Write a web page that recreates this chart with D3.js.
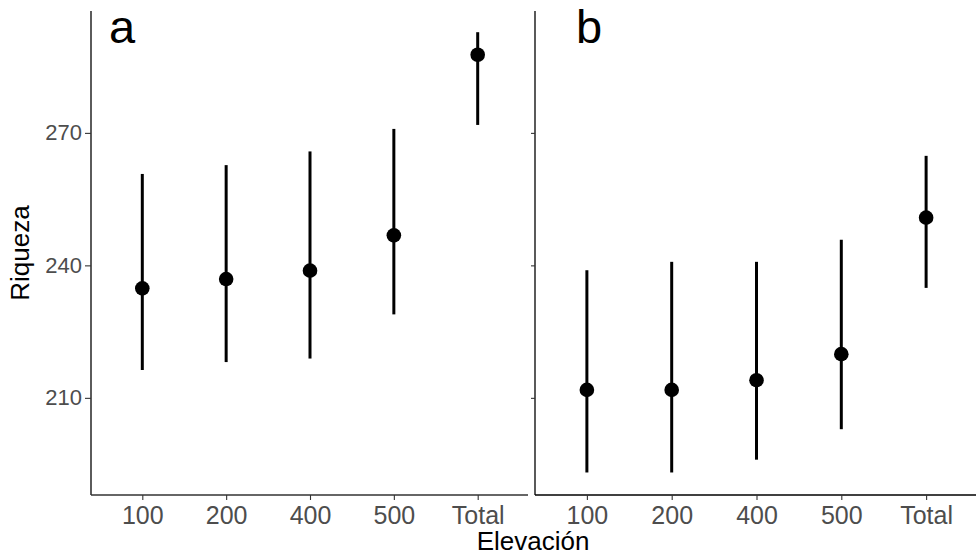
<!DOCTYPE html>
<html>
<head>
<meta charset="utf-8">
<script src="https://cdn.jsdelivr.net/npm/d3@7"></script>
<style>
  body { margin: 0; background: #fff; }
  text { font-family: "Liberation Sans", Arial, sans-serif; }
</style>
</head>
<body>
<div id="chart"></div>
<script>
// data
var categories = ["100", "200", "400", "500", "Total"];
var panelLabels = ["a", "b"];
var yTicks = [210, 240, 270];

var meanA  = [234.8, 236.9, 238.8, 246.8, 287.7];
var lowerA = [216.3, 218.1, 218.9, 228.9, 271.8];
var upperA = [260.7, 262.7, 265.8, 270.9, 292.8];

var meanB  = [211.8, 211.8, 214.0, 219.9, 250.8];
var lowerB = [193.1, 193.1, 196.0, 202.9, 234.9];
var upperB = [238.9, 240.8, 240.8, 245.8, 264.8];

var svgWidth = 976;
var svgHeight = 557;

var svg = d3.select("#chart").append("svg")
  .attr("width", svgWidth).attr("height", svgHeight);

// shared y scale
var yScale = d3.scaleLinear().domain([188, 297.6]).range([495, 11]);

var panels = [
  { label: panelLabels[0], mean: meanA, lower: lowerA, upper: upperA, x0: 91, x1: 528, tagX: 109, axisColor: "#333", showY: true },
  { label: panelLabels[1], mean: meanB, lower: lowerB, upper: upperB, x0: 535, x1: 977, tagX: 576, axisColor: "#000", showY: false }
];

panels.forEach(function(p) {
  var xScale = d3.scalePoint().domain(categories).range([p.x0 + 1, p.x1]).padding(0.6);
  var g = svg.append("g");

  var rows = categories.map(function(c, i) {
    return { cat: c, mean: p.mean[i], lower: p.lower[i], upper: p.upper[i] };
  });

  // x axis
  var xAxis = g.append("g").attr("transform", "translate(0,495)")
    .call(d3.axisBottom(xScale).tickSize(5).tickPadding(6));
  xAxis.select(".domain").attr("stroke", p.axisColor).attr("stroke-width", 1.3)
    .attr("d", "M" + p.x0 + ",0H" + (p.x1 - (p.showY ? 0 : 1)));
  xAxis.selectAll(".tick line").attr("stroke", "#333").attr("stroke-width", 1.1);
  xAxis.selectAll(".tick text").attr("fill", "#4d4d4d").style("font-size", "25px")
    .attr("dy", "0.71em");

  // y axis
  var yAxis = g.append("g").attr("transform", "translate(" + p.x0 + ",0)")
    .call(d3.axisLeft(yScale).tickValues(yTicks).tickSize(p.showY ? 6 : 4).tickPadding(3)
      .tickFormat(p.showY ? d3.format("d") : ""));
  yAxis.select(".domain").attr("stroke", p.axisColor).attr("stroke-width", p.showY ? 1.6 : 1.3)
    .attr("d", "M0,11V495");
  yAxis.selectAll(".tick line").attr("stroke", "#333").attr("stroke-width", 1.1);
  yAxis.selectAll(".tick text").attr("fill", "#4d4d4d").style("font-size", "22px");

  // error bars
  g.selectAll(".err").data(rows).enter().append("line")
    .attr("class", "err")
    .attr("x1", d => xScale(d.cat)).attr("x2", d => xScale(d.cat))
    .attr("y1", d => yScale(d.lower)).attr("y2", d => yScale(d.upper))
    .attr("stroke", "#000").attr("stroke-width", 3);

  // points
  g.selectAll(".pt").data(rows).enter().append("circle")
    .attr("class", "pt")
    .attr("cx", d => xScale(d.cat)).attr("cy", d => yScale(d.mean))
    .attr("r", 7.3).attr("fill", "#000");

  // panel tag
  g.append("text").attr("x", p.tagX).attr("y", 43)
    .style("font-size", "47px").attr("fill", "#000").text(p.label);
});

// axis titles
svg.append("text").attr("transform", "translate(29,253) rotate(-90)")
  .attr("text-anchor", "middle").style("font-size", "26px").attr("fill", "#000").text("Riqueza");
svg.append("text").attr("x", 533).attr("y", 550)
  .attr("text-anchor", "middle").style("font-size", "26px").attr("fill", "#000").text("Elevación");
</script>
</body>
</html>
